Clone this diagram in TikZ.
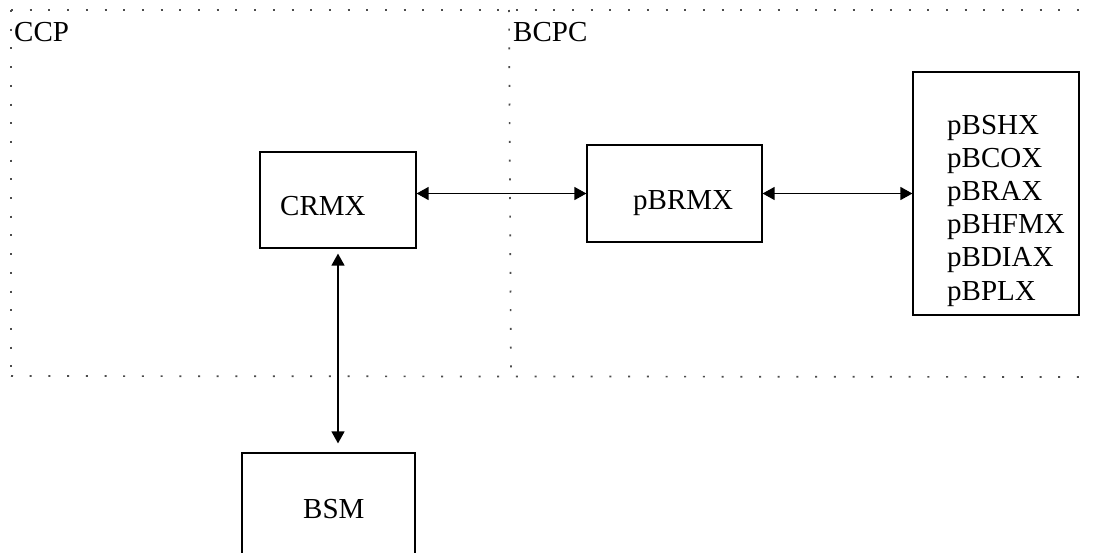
\documentclass[tikz,border=0pt]{standalone}
\usepackage{fontspec}
\setmainfont{Liberation Serif}
\usetikzlibrary{arrows.meta}
\begin{document}
\begin{tikzpicture}[x=1pt,y=-1pt,
  every node/.style={font=\fontsize{29}{33}\selectfont},
  box/.style={draw=black,line width=1.2pt,inner sep=0pt,rectangle},
  lbl/.style={inner sep=0pt,anchor=base west},
  link/.style={line width=1.3pt,{Triangle[length=12pt,width=13pt]}-{Triangle[length=12pt,width=13pt]}},
  border/.style={draw=black!70,line width=1.7pt,dash pattern=on 2pt off 16.7pt}]
\useasboundingbox (0,0) rectangle (1097,552);
\clip (0,0) rectangle (1097,552);
\fill[white] (0,0) rectangle (1097,552);

% dotted region borders
\coordinate (tl) at (11,10);
\coordinate (tr) at (1095,10);
\coordinate (bl) at (11,376);
\coordinate (br) at (1095,377);
\coordinate (mt) at (509,10);
\coordinate (mb) at (511,377);
\draw[border] (tl) -- (tr);
\draw[border] (tl) -- (bl);
\draw[border] (mt) -- (mb);
\draw[border] (bl) -- (br);

% region titles
\node[lbl] (ccp) at (14,41) {CCP};
\node[lbl] (bcpc) at (513,41) {BCPC};

% boxes
\node[box,minimum width=156pt,minimum height=96pt] (crmx) at (338,200) {};
\node[box,minimum width=175pt,minimum height=97pt] (pbrmx) at (674.5,193.5) {};
\node[box,minimum width=166pt,minimum height=243pt] (list) at (996,193.5) {};
\node[box,minimum width=173pt,minimum height=117pt] (bsm) at (328.5,511.5) {};

% box texts
\node[lbl] (crmxt) at (280,215) {CRMX};
\node[lbl] (pbrmxt) at (633,209) {pBRMX};
\node[lbl] (bsmt) at (303,518) {BSM};
\foreach \t [count=\i from 0] in {pBSHX,pBCOX,pBRAX,pBHFMX,pBDIAX,pBPLX}
  \node[lbl] (item\i) at (947,134+33.2*\i) {\t};

% connectors
\draw[link] (crmx.east |- pbrmx.west) -- (pbrmx.west);
\draw[link] (pbrmx.east) -- (list.west);
\draw[link,shorten <=5pt,shorten >=9pt] (crmx.south) -- (crmx.south |- bsm.north);
\end{tikzpicture}
\end{document}
